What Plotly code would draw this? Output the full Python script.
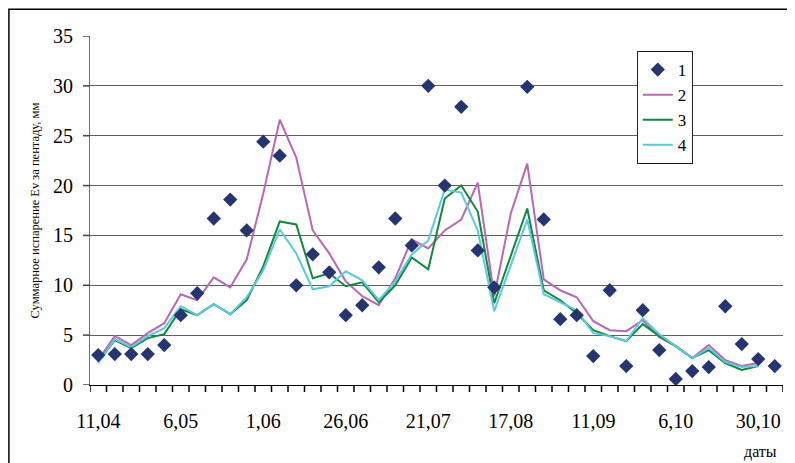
import plotly.graph_objects as go

# pentad index (42 pentads starting 11,04)
pentads = list(range(42))
tick_pos = [0, 5, 10, 15, 20, 25, 30, 35, 40]
tick_labels = ["11,04", "6,05", "1,06", "26,06", "21,07", "17,08", "11,09", "6,10", "30,10"]
y_ticks = [0, 5, 10, 15, 20, 25, 30, 35]

e1 = [3.0, 3.1, 3.1, 3.1, 4.0, 7.0, 9.2, 16.7, 18.6, 15.5, 24.4, 23.0, 10.0, 13.1, 11.3, 7.0,
      8.0, 11.8, 16.7, 14.0, 30.0, 20.0, 27.9, 13.5, 9.8, None, 29.9, 16.6, 6.6, 7.0, 2.9, 9.5,
      1.9, 7.5, 3.5, 0.6, 1.4, 1.8, 7.9, 4.1, 2.6, 1.9]
e2 = [2.5, 4.9, 4.0, 5.2, 6.2, 9.1, 8.5, 10.8, 9.8, 12.6, 19.2, 26.6, 22.8, 15.5, 13.2, 10.4,
      8.9, 8.0, 10.7, 14.6, 13.7, 15.5, 16.6, 20.3, 8.9, 17.2, 22.2, 10.6, 9.5, 8.8, 6.4, 5.5,
      5.4, 6.5, 4.8, 3.9, 2.7, 4.0, 2.5, 1.9, 2.2]
e3 = [2.3, 4.5, 3.7, 4.7, 5.1, 7.6, 7.0, 8.1, 7.1, 8.5, 11.9, 16.4, 16.1, 10.7, 11.2, 9.9,
      10.3, 8.3, 10.0, 12.8, 11.6, 18.7, 20.0, 17.4, 8.2, 12.9, 17.7, 9.5, 8.5, 7.2, 5.5, 4.9,
      4.4, 6.1, 4.9, 3.9, 2.7, 3.5, 2.2, 1.5, 1.9]
e4 = [2.2, 4.6, 3.8, 4.9, 5.7, 7.9, 7.0, 8.1, 7.1, 8.8, 11.5, 15.6, 13.2, 9.6, 9.9, 11.4,
      10.5, 8.5, 10.4, 13.1, 14.5, 19.6, 19.3, 15.5, 7.4, 11.9, 16.6, 9.1, 8.3, 7.5, 5.2, 4.9,
      4.4, 6.7, 5.1, 3.9, 2.7, 3.7, 2.3, 1.8, 1.9]

FONT = "Liberation Serif"
boundaries = [i - 0.5 for i in range(len(pentads) + 1)]

fig = go.Figure()
fig.add_trace(go.Scatter(x=pentads, y=e2, mode="lines", name="2", legendgroup="2", legendrank=2,
                         line=dict(color="#B868B4", width=2)))
fig.add_trace(go.Scatter(x=pentads, y=e3, mode="lines", name="3", legendgroup="3", legendrank=3,
                         line=dict(color="#12883E", width=2)))
fig.add_trace(go.Scatter(x=pentads, y=e4, mode="lines", name="4", legendgroup="4", legendrank=4,
                         line=dict(color="#5CC8DA", width=2)))
fig.add_trace(go.Scatter(x=pentads, y=e1, mode="markers", name="1", legendgroup="1", legendrank=1,
                         marker=dict(symbol="diamond", size=11, color="#263470")))

# the page body has an 8px margin, so margins are shifted to place the plot at 90..783 x 36..385
fig.update_layout(
    width=795, height=463,
    margin=dict(l=82, r=20, t=28, b=86),
    paper_bgcolor="white", plot_bgcolor="white",
    font=dict(family=FONT, color="black"),
    showlegend=True,
    legend=dict(x=0.789, y=0.957, xanchor="left", yanchor="top",
                bgcolor="white", bordercolor="#222", borderwidth=1,
                font=dict(size=17, family=FONT),
                traceorder="grouped", tracegroupgap=0,
                itemwidth=30),
    xaxis=dict(range=[-0.5, 41.5], tickmode="array", tickvals=tick_pos, ticktext=tick_labels,
               ticks="", showgrid=False, zeroline=False, showline=True,
               linecolor="black", linewidth=1.2,
               tickfont=dict(size=20, family=FONT), ticklabelstandoff=18),
    yaxis=dict(range=[0, 35], tickvals=y_ticks,
               ticks="", showgrid=True, gridcolor="#606060", gridwidth=1,
               zeroline=False, showline=True, linecolor="#707070", linewidth=1.2,
               tickfont=dict(size=20, family=FONT), ticklabelstandoff=12,
               title=dict(text="Суммарное испарение Ev за пентаду, мм",
                          font=dict(size=12.5, family=FONT), standoff=10)),
)

# tick marks at category boundaries (below x axis) and at y tick values (left of y axis)
for b in boundaries:
    fig.add_shape(type="line", xref="x", yref="paper", ysizemode="pixel", yanchor=0,
                  x0=b, x1=b, y0=0, y1=-7, line=dict(color="black", width=1.5), layer="above")
for v in y_ticks:
    fig.add_shape(type="line", xref="paper", yref="y", xsizemode="pixel", xanchor=0,
                  x0=-7, x1=0, y0=v, y1=v, line=dict(color="#444", width=1.5), layer="above")

fig.add_annotation(text="даты", xref="paper", yref="paper", x=0.967, y=-0.192,
                   showarrow=False, xanchor="center", yanchor="middle",
                   font=dict(size=16, family=FONT))

fig.add_shape(type="rect", xref="paper", yref="paper",
              x0=-0.117, x1=1.1, y0=-0.4, y1=1.077,
              line=dict(color="black", width=1.5), fillcolor="rgba(0,0,0,0)", layer="above")

fig.write_html("out.html")
